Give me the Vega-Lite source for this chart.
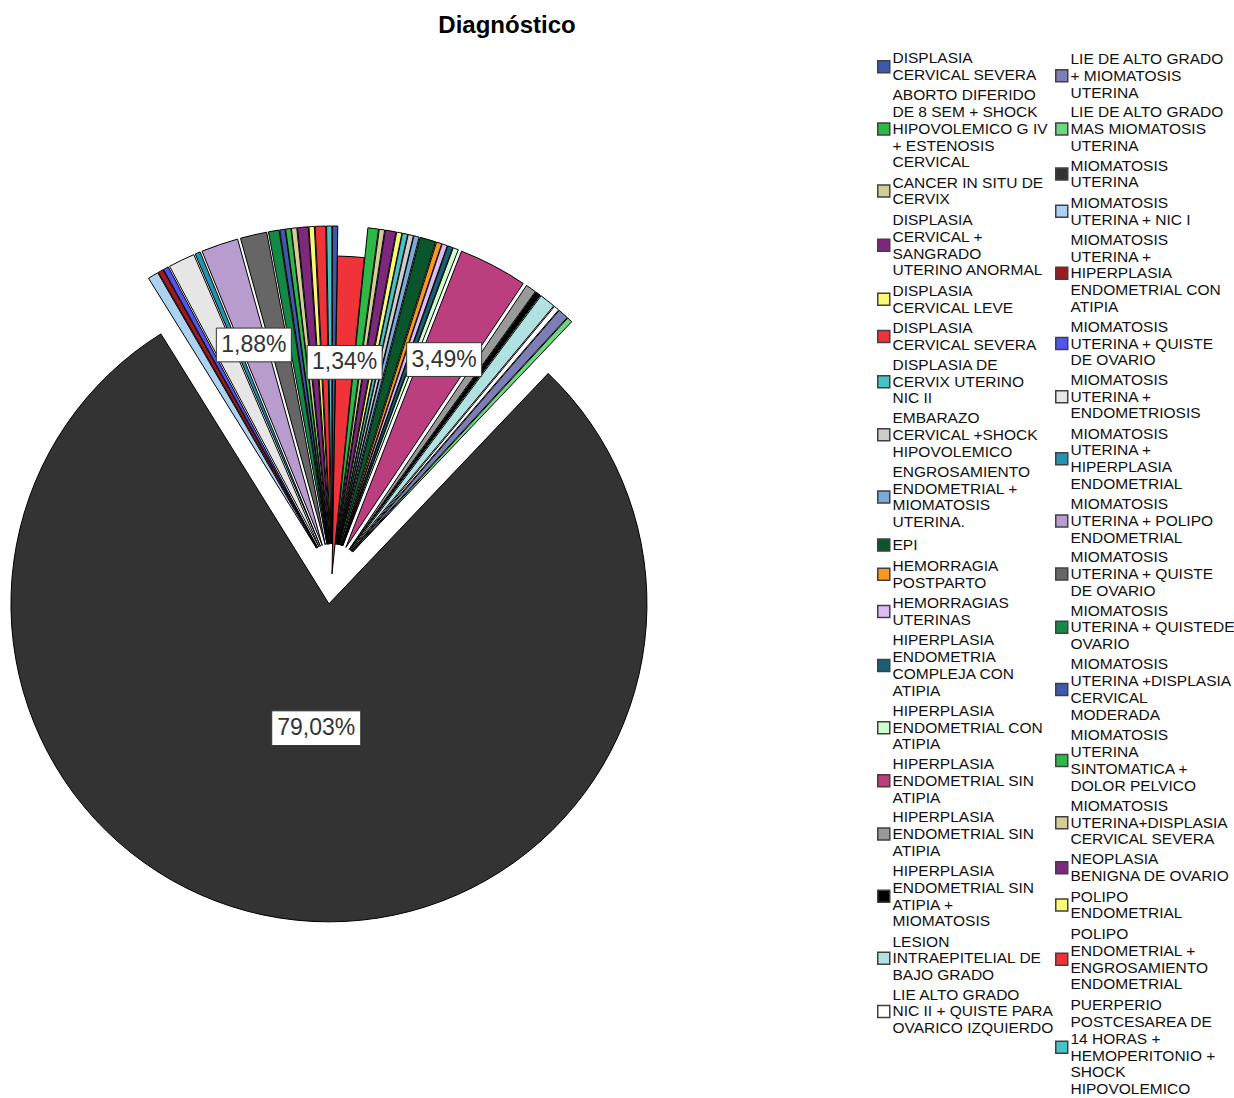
{
  "$schema": "https://vega.github.io/schema/vega-lite/v6.json",
  "width": 1234,
  "height": 1098,
  "autosize": {"type": "none"},
  "padding": 0,
  "background": "#ffffff",
  "title": {
    "text": "Diagnóstico",
    "anchor": "middle",
    "frame": "group",
    "dx": -110,
    "offset": -57,
    "baseline": "alphabetic",
    "font": "Liberation Sans",
    "fontSize": 24,
    "fontWeight": "bold",
    "color": "#000000"
  },
  "config": {
    "view": {"stroke": null},
    "locale": {"number": {"decimal": ",", "thousands": ".", "grouping": [3], "currency": ["", " €"]}}
  },
  "data": {
    "values": [
      {"Diagnostico": "DISPLASIA CERVICAL SEVERA", "n": 5},
      {"Diagnostico": "ABORTO DIFERIDO DE 8 SEM + SHOCK HIPOVOLEMICO G IV + ESTENOSIS CERVICAL", "n": 2},
      {"Diagnostico": "CANCER IN SITU DE CERVIX", "n": 1},
      {"Diagnostico": "DISPLASIA CERVICAL + SANGRADO UTERINO ANORMAL", "n": 2},
      {"Diagnostico": "DISPLASIA CERVICAL LEVE", "n": 1},
      {"Diagnostico": "DISPLASIA DE CERVIX UTERINO NIC II", "n": 1},
      {"Diagnostico": "EMBARAZO CERVICAL +SHOCK HIPOVOLEMICO", "n": 1},
      {"Diagnostico": "ENGROSAMIENTO ENDOMETRIAL + MIOMATOSIS UTERINA.", "n": 1},
      {"Diagnostico": "EPI", "n": 3},
      {"Diagnostico": "HEMORRAGIA POSTPARTO", "n": 1},
      {"Diagnostico": "HEMORRAGIAS UTERINAS", "n": 1},
      {"Diagnostico": "HIPERPLASIA ENDOMETRIA COMPLEJA CON ATIPIA", "n": 1},
      {"Diagnostico": "HIPERPLASIA ENDOMETRIAL CON ATIPIA", "n": 1},
      {"Diagnostico": "HIPERPLASIA ENDOMETRIAL SIN ATIPIA", "n": 13},
      {"Diagnostico": "HIPERPLASIA ENDOMETRIAL SIN ATIPIA ", "n": 2},
      {"Diagnostico": "HIPERPLASIA ENDOMETRIAL SIN ATIPIA + MIOMATOSIS", "n": 1},
      {"Diagnostico": "LESION INTRAEPITELIAL DE BAJO GRADO", "n": 3},
      {"Diagnostico": "LIE ALTO GRADO NIC II + QUISTE PARA OVARICO IZQUIERDO", "n": 1},
      {"Diagnostico": "LIE DE ALTO GRADO + MIOMATOSIS UTERINA", "n": 2},
      {"Diagnostico": "LIE DE ALTO GRADO MAS MIOMATOSIS UTERINA", "n": 1},
      {"Diagnostico": "MIOMATOSIS UTERINA", "n": 294},
      {"Diagnostico": "MIOMATOSIS UTERINA  + NIC I", "n": 2},
      {"Diagnostico": "MIOMATOSIS UTERINA + HIPERPLASIA ENDOMETRIAL CON ATIPIA", "n": 1},
      {"Diagnostico": "MIOMATOSIS UTERINA +  QUISTE DE OVARIO", "n": 1},
      {"Diagnostico": "MIOMATOSIS UTERINA + ENDOMETRIOSIS", "n": 5},
      {"Diagnostico": "MIOMATOSIS UTERINA + HIPERPLASIA ENDOMETRIAL", "n": 1},
      {"Diagnostico": "MIOMATOSIS UTERINA + POLIPO ENDOMETRIAL", "n": 7},
      {"Diagnostico": "MIOMATOSIS UTERINA + QUISTE DE OVARIO", "n": 5},
      {"Diagnostico": "MIOMATOSIS UTERINA + QUISTEDE OVARIO", "n": 2},
      {"Diagnostico": "MIOMATOSIS UTERINA +DISPLASIA CERVICAL MODERADA", "n": 1},
      {"Diagnostico": "MIOMATOSIS UTERINA SINTOMATICA + DOLOR PELVICO", "n": 1},
      {"Diagnostico": "MIOMATOSIS UTERINA+DISPLASIA CERVICAL SEVERA", "n": 1},
      {"Diagnostico": "NEOPLASIA BENIGNA DE OVARIO", "n": 2},
      {"Diagnostico": "POLIPO ENDOMETRIAL", "n": 1},
      {"Diagnostico": "POLIPO ENDOMETRIAL + ENGROSAMIENTO ENDOMETRIAL", "n": 2},
      {"Diagnostico": "PUERPERIO POSTCESAREA DE 14 HORAS + HEMOPERITONIO + SHOCK HIPOVOLEMICO", "n": 1},
      {"Diagnostico": " DISPLASIA CERVICAL SEVERA", "n": 1}
    ]
  },
  "transform": [
    {"window": [{"op": "row_number", "as": "orden"}]},
    {"joinaggregate": [{"op": "sum", "field": "n", "as": "total"}]},
    {"stack": "n", "groupby": [], "sort": [{"field": "orden", "order": "ascending"}], "as": ["a0", "a1"]},
    {"calculate": "datum.a0 / datum.total", "as": "t0"},
    {"calculate": "datum.a1 / datum.total", "as": "t1"},
    {"calculate": "PI / 180 + PI * (datum.t0 + datum.t1)", "as": "ang"},
    {"calculate": "datum.Diagnostico === 'DISPLASIA CERVICAL SEVERA' ? 0 : 30", "as": "sep"},
    {"calculate": "datum.sep * sin(datum.ang)", "as": "cx"},
    {"calculate": "-datum.sep * cos(datum.ang)", "as": "cy"},
    {"calculate": "datum.n > 100 ? 125 : 212", "as": "rl"},
    {"calculate": "datum.cx + datum.rl * sin(datum.ang)", "as": "lx"},
    {"calculate": "datum.cy - datum.rl * cos(datum.ang)", "as": "ly"},
    {"calculate": "datum.n / datum.total", "as": "p"}
  ],
  "resolve": {"scale": {"color": "independent"}, "legend": {"color": "independent"}},
  "layer": [
    {
      "transform": [{"filter": {"field": "Diagnostico", "oneOf": [
        " DISPLASIA CERVICAL SEVERA",
        "ABORTO DIFERIDO DE 8 SEM + SHOCK HIPOVOLEMICO G IV + ESTENOSIS CERVICAL",
        "CANCER IN SITU DE CERVIX",
        "DISPLASIA CERVICAL + SANGRADO UTERINO ANORMAL",
        "DISPLASIA CERVICAL LEVE",
        "DISPLASIA CERVICAL SEVERA",
        "DISPLASIA DE CERVIX UTERINO NIC II",
        "EMBARAZO CERVICAL +SHOCK HIPOVOLEMICO",
        "ENGROSAMIENTO ENDOMETRIAL + MIOMATOSIS UTERINA.",
        "EPI",
        "HEMORRAGIA POSTPARTO",
        "HEMORRAGIAS UTERINAS",
        "HIPERPLASIA ENDOMETRIA COMPLEJA CON ATIPIA",
        "HIPERPLASIA ENDOMETRIAL CON ATIPIA",
        "HIPERPLASIA ENDOMETRIAL SIN ATIPIA",
        "HIPERPLASIA ENDOMETRIAL SIN ATIPIA ",
        "HIPERPLASIA ENDOMETRIAL SIN ATIPIA + MIOMATOSIS",
        "LESION INTRAEPITELIAL DE BAJO GRADO",
        "LIE ALTO GRADO NIC II + QUISTE PARA OVARICO IZQUIERDO"]}}],
      "mark": {"type": "arc", "outerRadius": 318, "stroke": "#000000", "strokeWidth": 1},
      "encoding": {
        "x": {"field": "cx", "type": "quantitative", "scale": {"domain": [-332, 902], "range": [0, 1234], "zero": false, "nice": false}, "axis": null},
        "y": {"field": "cy", "type": "quantitative", "scale": {"domain": [-574, 524], "range": [0, 1098], "zero": false, "nice": false}, "axis": null},
        "theta": {"field": "t0", "type": "quantitative", "scale": {"domain": [0, 1], "range": [0.017453, 6.300638]}},
        "theta2": {"field": "t1"},
        "color": {
          "field": "Diagnostico",
          "type": "nominal",
          "scale": {
            "domain": [
              " DISPLASIA CERVICAL SEVERA",
              "ABORTO DIFERIDO DE 8 SEM + SHOCK HIPOVOLEMICO G IV + ESTENOSIS CERVICAL",
              "CANCER IN SITU DE CERVIX",
              "DISPLASIA CERVICAL + SANGRADO UTERINO ANORMAL",
              "DISPLASIA CERVICAL LEVE",
              "DISPLASIA CERVICAL SEVERA",
              "DISPLASIA DE CERVIX UTERINO NIC II",
              "EMBARAZO CERVICAL +SHOCK HIPOVOLEMICO",
              "ENGROSAMIENTO ENDOMETRIAL + MIOMATOSIS UTERINA.",
              "EPI",
              "HEMORRAGIA POSTPARTO",
              "HEMORRAGIAS UTERINAS",
              "HIPERPLASIA ENDOMETRIA COMPLEJA CON ATIPIA",
              "HIPERPLASIA ENDOMETRIAL CON ATIPIA",
              "HIPERPLASIA ENDOMETRIAL SIN ATIPIA",
              "HIPERPLASIA ENDOMETRIAL SIN ATIPIA ",
              "HIPERPLASIA ENDOMETRIAL SIN ATIPIA + MIOMATOSIS",
              "LESION INTRAEPITELIAL DE BAJO GRADO",
              "LIE ALTO GRADO NIC II + QUISTE PARA OVARICO IZQUIERDO"],
            "range": ["#3E58AC", "#2EB848", "#D3CE97", "#7C287D", "#FBF873", "#EF3338", "#48C2C5", "#CCCCCC", "#7AAAD5", "#0A562C", "#F8981D", "#DDBAF1", "#1A5F76", "#CCFFCC", "#BB3F7F", "#999999", "#000000", "#B0E2E2", "#FFFFFF"]
          },
          "legend": {
            "title": null,
            "orient": "none",
            "legendX": 876,
            "legendY": 59,
            "padding": 0,
            "symbolType": "square",
            "symbolSize": 144,
            "symbolStrokeColor": "#404040",
            "symbolStrokeWidth": 1.5,
            "labelFont": "Liberation Sans",
            "labelFontSize": 15.5,
            "labelColor": "#111111",
            "labelOffset": 1,
            "labelLimit": 400,
            "rowPadding": 4.15,
            "encode": {"labels": {"update": {
              "lineHeight": {"value": 16.75},
              "dy": {"signal": "-([2, 5, 2, 4, 2, 2, 3, 3, 4, 1, 2, 2, 4, 3, 3, 3, 4, 3, 3][datum.index] - 1) * 8.375"}
            }}},
            "labelExpr": "({' DISPLASIA CERVICAL SEVERA': ['DISPLASIA', 'CERVICAL SEVERA'], 'ABORTO DIFERIDO DE 8 SEM + SHOCK HIPOVOLEMICO G IV + ESTENOSIS CERVICAL': ['ABORTO DIFERIDO', 'DE 8 SEM + SHOCK', 'HIPOVOLEMICO G IV', '+ ESTENOSIS', 'CERVICAL'], 'CANCER IN SITU DE CERVIX': ['CANCER IN SITU DE', 'CERVIX'], 'DISPLASIA CERVICAL + SANGRADO UTERINO ANORMAL': ['DISPLASIA', 'CERVICAL +', 'SANGRADO', 'UTERINO ANORMAL'], 'DISPLASIA CERVICAL LEVE': ['DISPLASIA', 'CERVICAL LEVE'], 'DISPLASIA CERVICAL SEVERA': ['DISPLASIA', 'CERVICAL SEVERA'], 'DISPLASIA DE CERVIX UTERINO NIC II': ['DISPLASIA DE', 'CERVIX UTERINO', 'NIC II'], 'EMBARAZO CERVICAL +SHOCK HIPOVOLEMICO': ['EMBARAZO', 'CERVICAL +SHOCK', 'HIPOVOLEMICO'], 'ENGROSAMIENTO ENDOMETRIAL + MIOMATOSIS UTERINA.': ['ENGROSAMIENTO', 'ENDOMETRIAL  +', 'MIOMATOSIS', 'UTERINA.'], 'EPI': 'EPI', 'HEMORRAGIA POSTPARTO': ['HEMORRAGIA', 'POSTPARTO'], 'HEMORRAGIAS UTERINAS': ['HEMORRAGIAS', 'UTERINAS'], 'HIPERPLASIA ENDOMETRIA COMPLEJA CON ATIPIA': ['HIPERPLASIA', 'ENDOMETRIA', 'COMPLEJA CON', 'ATIPIA'], 'HIPERPLASIA ENDOMETRIAL CON ATIPIA': ['HIPERPLASIA', 'ENDOMETRIAL CON', 'ATIPIA'], 'HIPERPLASIA ENDOMETRIAL SIN ATIPIA': ['HIPERPLASIA', 'ENDOMETRIAL SIN', 'ATIPIA'], 'HIPERPLASIA ENDOMETRIAL SIN ATIPIA ': ['HIPERPLASIA', 'ENDOMETRIAL SIN', 'ATIPIA'], 'HIPERPLASIA ENDOMETRIAL SIN ATIPIA + MIOMATOSIS': ['HIPERPLASIA', 'ENDOMETRIAL SIN', 'ATIPIA +', 'MIOMATOSIS'], 'LESION INTRAEPITELIAL DE BAJO GRADO': ['LESION', 'INTRAEPITELIAL DE', 'BAJO GRADO'], 'LIE ALTO GRADO NIC II + QUISTE PARA OVARICO IZQUIERDO': ['LIE ALTO GRADO', 'NIC II + QUISTE PARA', 'OVARICO IZQUIERDO']})[datum.label] || datum.label"
          }
        }
      }
    },
    {
      "transform": [{"filter": {"field": "Diagnostico", "oneOf": [
        "LIE DE ALTO GRADO + MIOMATOSIS UTERINA",
        "LIE DE ALTO GRADO MAS MIOMATOSIS UTERINA",
        "MIOMATOSIS UTERINA",
        "MIOMATOSIS UTERINA  + NIC I",
        "MIOMATOSIS UTERINA + HIPERPLASIA ENDOMETRIAL CON ATIPIA",
        "MIOMATOSIS UTERINA +  QUISTE DE OVARIO",
        "MIOMATOSIS UTERINA + ENDOMETRIOSIS",
        "MIOMATOSIS UTERINA + HIPERPLASIA ENDOMETRIAL",
        "MIOMATOSIS UTERINA + POLIPO ENDOMETRIAL",
        "MIOMATOSIS UTERINA + QUISTE DE OVARIO",
        "MIOMATOSIS UTERINA + QUISTEDE OVARIO",
        "MIOMATOSIS UTERINA +DISPLASIA CERVICAL MODERADA",
        "MIOMATOSIS UTERINA SINTOMATICA + DOLOR PELVICO",
        "MIOMATOSIS UTERINA+DISPLASIA CERVICAL SEVERA",
        "NEOPLASIA BENIGNA DE OVARIO",
        "POLIPO ENDOMETRIAL",
        "POLIPO ENDOMETRIAL + ENGROSAMIENTO ENDOMETRIAL",
        "PUERPERIO POSTCESAREA DE 14 HORAS + HEMOPERITONIO + SHOCK HIPOVOLEMICO"]}}],
      "mark": {"type": "arc", "outerRadius": 318, "stroke": "#000000", "strokeWidth": 1},
      "encoding": {
        "x": {"field": "cx", "type": "quantitative", "scale": {"domain": [-332, 902], "range": [0, 1234], "zero": false, "nice": false}, "axis": null},
        "y": {"field": "cy", "type": "quantitative", "scale": {"domain": [-574, 524], "range": [0, 1098], "zero": false, "nice": false}, "axis": null},
        "theta": {"field": "t0", "type": "quantitative", "scale": {"domain": [0, 1], "range": [0.017453, 6.300638]}},
        "theta2": {"field": "t1"},
        "color": {
          "field": "Diagnostico",
          "type": "nominal",
          "scale": {
            "domain": [
              "LIE DE ALTO GRADO + MIOMATOSIS UTERINA",
              "LIE DE ALTO GRADO MAS MIOMATOSIS UTERINA",
              "MIOMATOSIS UTERINA",
              "MIOMATOSIS UTERINA  + NIC I",
              "MIOMATOSIS UTERINA + HIPERPLASIA ENDOMETRIAL CON ATIPIA",
              "MIOMATOSIS UTERINA +  QUISTE DE OVARIO",
              "MIOMATOSIS UTERINA + ENDOMETRIOSIS",
              "MIOMATOSIS UTERINA + HIPERPLASIA ENDOMETRIAL",
              "MIOMATOSIS UTERINA + POLIPO ENDOMETRIAL",
              "MIOMATOSIS UTERINA + QUISTE DE OVARIO",
              "MIOMATOSIS UTERINA + QUISTEDE OVARIO",
              "MIOMATOSIS UTERINA +DISPLASIA CERVICAL MODERADA",
              "MIOMATOSIS UTERINA SINTOMATICA + DOLOR PELVICO",
              "MIOMATOSIS UTERINA+DISPLASIA CERVICAL SEVERA",
              "NEOPLASIA BENIGNA DE OVARIO",
              "POLIPO ENDOMETRIAL",
              "POLIPO ENDOMETRIAL + ENGROSAMIENTO ENDOMETRIAL",
              "PUERPERIO POSTCESAREA DE 14 HORAS + HEMOPERITONIO + SHOCK HIPOVOLEMICO"],
            "range": ["#7E7EB6", "#6CD77E", "#333333", "#ADD1F1", "#9B1B20", "#5353F2", "#E6E6E6", "#2492B0", "#B89CCD", "#666666", "#138847", "#3E58AC", "#2EB848", "#D3CE97", "#7C287D", "#FBF873", "#EF3338", "#48C2C5"]
          },
          "legend": {
            "title": null,
            "orient": "none",
            "legendX": 1054,
            "legendY": 68,
            "padding": 0,
            "symbolType": "square",
            "symbolSize": 144,
            "symbolStrokeColor": "#404040",
            "symbolStrokeWidth": 1.5,
            "labelFont": "Liberation Sans",
            "labelFontSize": 15.5,
            "labelColor": "#111111",
            "labelOffset": 1,
            "labelLimit": 400,
            "rowPadding": 4.15,
            "encode": {"labels": {"update": {
              "lineHeight": {"value": 16.75},
              "dy": {"signal": "-([3, 3, 2, 2, 5, 3, 3, 4, 3, 3, 3, 4, 4, 3, 2, 2, 4, 6][datum.index] - 1) * 8.375"}
            }}},
            "labelExpr": "({'LIE DE ALTO GRADO + MIOMATOSIS UTERINA': ['LIE DE ALTO GRADO', '+ MIOMATOSIS', 'UTERINA'], 'LIE DE ALTO GRADO MAS MIOMATOSIS UTERINA': ['LIE DE ALTO GRADO', 'MAS MIOMATOSIS', 'UTERINA'], 'MIOMATOSIS UTERINA': ['MIOMATOSIS', 'UTERINA'], 'MIOMATOSIS UTERINA  + NIC I': ['MIOMATOSIS', 'UTERINA  + NIC I'], 'MIOMATOSIS UTERINA + HIPERPLASIA ENDOMETRIAL CON ATIPIA': ['MIOMATOSIS', 'UTERINA +', 'HIPERPLASIA', 'ENDOMETRIAL CON', 'ATIPIA'], 'MIOMATOSIS UTERINA +  QUISTE DE OVARIO': ['MIOMATOSIS', 'UTERINA +  QUISTE', 'DE OVARIO'], 'MIOMATOSIS UTERINA + ENDOMETRIOSIS': ['MIOMATOSIS', 'UTERINA +', 'ENDOMETRIOSIS'], 'MIOMATOSIS UTERINA + HIPERPLASIA ENDOMETRIAL': ['MIOMATOSIS', 'UTERINA +', 'HIPERPLASIA', 'ENDOMETRIAL'], 'MIOMATOSIS UTERINA + POLIPO ENDOMETRIAL': ['MIOMATOSIS', 'UTERINA + POLIPO', 'ENDOMETRIAL'], 'MIOMATOSIS UTERINA + QUISTE DE OVARIO': ['MIOMATOSIS', 'UTERINA + QUISTE', 'DE OVARIO'], 'MIOMATOSIS UTERINA + QUISTEDE OVARIO': ['MIOMATOSIS', 'UTERINA + QUISTEDE', 'OVARIO'], 'MIOMATOSIS UTERINA +DISPLASIA CERVICAL MODERADA': ['MIOMATOSIS', 'UTERINA +DISPLASIA', 'CERVICAL', 'MODERADA'], 'MIOMATOSIS UTERINA SINTOMATICA + DOLOR PELVICO': ['MIOMATOSIS', 'UTERINA', 'SINTOMATICA +', 'DOLOR PELVICO'], 'MIOMATOSIS UTERINA+DISPLASIA CERVICAL SEVERA': ['MIOMATOSIS', 'UTERINA+DISPLASIA', 'CERVICAL SEVERA'], 'NEOPLASIA BENIGNA DE OVARIO': ['NEOPLASIA', 'BENIGNA DE OVARIO'], 'POLIPO ENDOMETRIAL': ['POLIPO', 'ENDOMETRIAL'], 'POLIPO ENDOMETRIAL + ENGROSAMIENTO ENDOMETRIAL': ['POLIPO', 'ENDOMETRIAL +', 'ENGROSAMIENTO', 'ENDOMETRIAL'], 'PUERPERIO POSTCESAREA DE 14 HORAS + HEMOPERITONIO + SHOCK HIPOVOLEMICO': ['PUERPERIO', 'POSTCESAREA DE', '14 HORAS +', 'HEMOPERITONIO +', 'SHOCK', 'HIPOVOLEMICO']})[datum.label] || datum.label"
          }
        }
      }
    },
    {
      "transform": [{"filter": {"field": "Diagnostico", "oneOf": ["DISPLASIA CERVICAL SEVERA", "HIPERPLASIA ENDOMETRIAL SIN ATIPIA", "MIOMATOSIS UTERINA + POLIPO ENDOMETRIAL"]}}],
      "mark": {"type": "point", "shape": "M-1,-0.45H1V0.45H-1Z", "size": 5625, "filled": true, "fill": "#ffffff", "stroke": "#333333", "strokeWidth": 1, "opacity": 1},
      "encoding": {
        "x": {"field": "lx", "type": "quantitative", "scale": {"domain": [-332, 902], "range": [0, 1234], "zero": false, "nice": false}, "axis": null},
        "y": {"field": "ly", "type": "quantitative", "scale": {"domain": [-574, 524], "range": [0, 1098], "zero": false, "nice": false}, "axis": null}
      }
    },
    {
      "transform": [{"filter": {"field": "Diagnostico", "equal": "MIOMATOSIS UTERINA"}}],
      "mark": {"type": "point", "shape": "M-1,-0.39H1V0.39H-1Z", "size": 7921, "filled": true, "fill": "#ffffff", "stroke": "#333333", "strokeWidth": 1, "opacity": 1},
      "encoding": {
        "x": {"field": "lx", "type": "quantitative", "scale": {"domain": [-332, 902], "range": [0, 1234], "zero": false, "nice": false}, "axis": null},
        "y": {"field": "ly", "type": "quantitative", "scale": {"domain": [-574, 524], "range": [0, 1098], "zero": false, "nice": false}, "axis": null}
      }
    },
    {
      "transform": [{"filter": {"field": "Diagnostico", "oneOf": ["DISPLASIA CERVICAL SEVERA", "HIPERPLASIA ENDOMETRIAL SIN ATIPIA", "MIOMATOSIS UTERINA + POLIPO ENDOMETRIAL", "MIOMATOSIS UTERINA"]}}],
      "mark": {"type": "text", "font": "Liberation Sans", "fontSize": 23, "color": "#333333", "align": "center", "baseline": "middle"},
      "encoding": {
        "x": {"field": "lx", "type": "quantitative", "scale": {"domain": [-332, 902], "range": [0, 1234], "zero": false, "nice": false}, "axis": null},
        "y": {"field": "ly", "type": "quantitative", "scale": {"domain": [-574, 524], "range": [0, 1098], "zero": false, "nice": false}, "axis": null},
        "text": {"field": "p", "type": "quantitative", "format": ".2%"}
      }
    }
  ]
}
